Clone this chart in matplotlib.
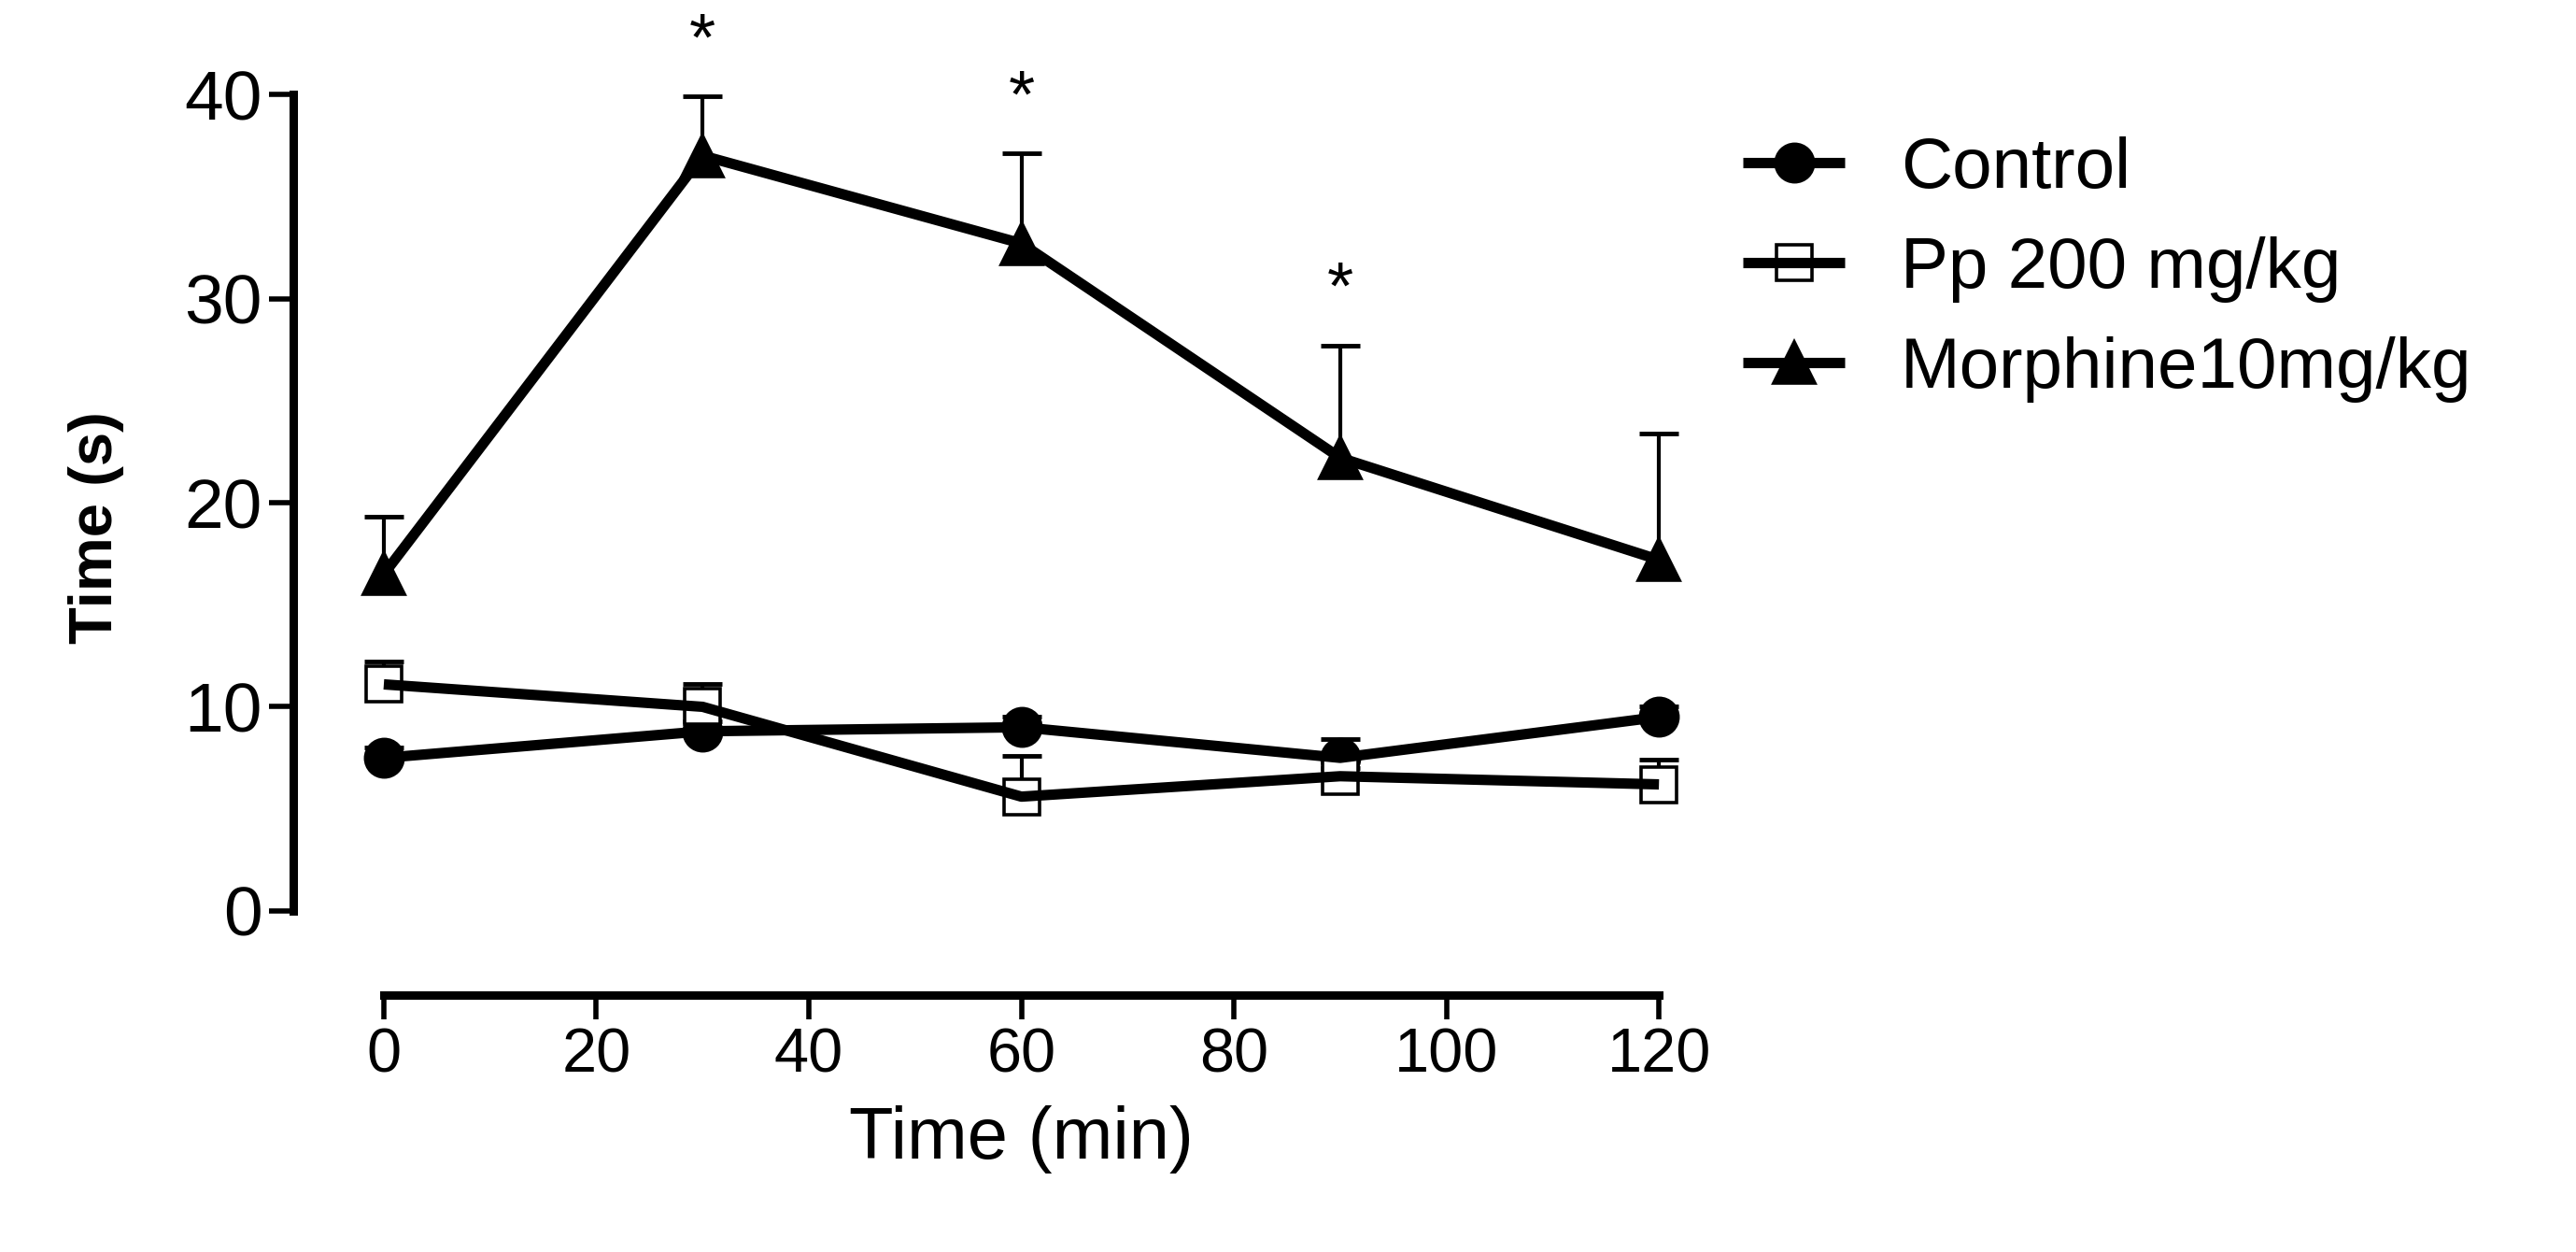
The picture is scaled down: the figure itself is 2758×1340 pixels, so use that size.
import matplotlib
matplotlib.use("Agg")
import matplotlib.pyplot as plt
from matplotlib.legend_handler import HandlerTuple

plt.rcParams["font.family"] = ["Liberation Sans", "DejaVu Sans"]

# time points (min)
times = [0, 30, 60, 90, 120]

# group means and upper SEM
control = [7.5, 8.8, 9.0, 7.5, 9.5]
control_err = [0.5, 0.5, 0.5, 0.9, 0.5]
pp200 = [11.1, 10.0, 5.6, 6.6, 6.2]
pp200_err = [1.1, 1.1, 2.0, 0.4, 1.2]
morphine = [16.5, 37.0, 32.7, 22.2, 17.2]
morphine_err = [2.8, 2.9, 4.4, 5.5, 6.2]

groups = ["Control", "Pp 200 mg/kg", "Morphine10mg/kg"]
markers = ["o", "s", "^"]
marker_sizes = [29, 28, 31]
face_colors = ["black", "white", "black"]

# significance marks over morphine
star_times = [30, 60, 90]

fig = plt.figure(figsize=(27.58, 13.40), dpi=100)
ax = fig.add_axes([0.149, 0.2724, 0.644 - 0.149, 0.9246 - 0.2724])

series = [(control, control_err), (pp200, pp200_err), (morphine, morphine_err)]
handles = []
for (vals, errs), name, mk, ms, fc in zip(series, groups, markers, marker_sizes, face_colors):
    # upper error only
    _, caps, _ = ax.errorbar(times, vals, yerr=[[0] * len(errs), errs], fmt="none",
                             ecolor="black", elinewidth=3, capsize=15, capthick=3.5,
                             zorder=2, clip_on=False)
    caps[0].set_visible(False)
    mh, = ax.plot(times, vals, linestyle="none", marker=mk, markersize=ms,
                  markerfacecolor=fc, markeredgecolor="black",
                  markeredgewidth=2.6, zorder=3, clip_on=False)
    lh, = ax.plot(times, vals, color="black", linewidth=8, zorder=4,
                  clip_on=False, solid_capstyle="butt")
    handles.append((mh, lh))

for t in star_times:
    i = times.index(t)
    ax.annotate("*", xy=(t, morphine[i] + morphine_err[i]), xytext=(0, 28),
                textcoords="offset points", ha="center", va="baseline",
                fontsize=52, annotation_clip=False)

ax.set_xlim(0, 120)
ax.set_ylim(0, 40)
ax.set_xticks(range(0, 121, 20))
ax.set_yticks(range(0, 41, 10))

for s in ["top", "right"]:
    ax.spines[s].set_visible(False)
ax.spines["left"].set_position(("outward", 70))
ax.spines["bottom"].set_position(("outward", 65))
ax.spines["left"].set_bounds(0, 40)
ax.spines["bottom"].set_bounds(0, 120)
ax.spines["left"].set_linewidth(6.5)
ax.spines["bottom"].set_linewidth(6.5)

ax.tick_params(axis="both", direction="out", length=19, width=4, color="black")
ax.tick_params(axis="y", pad=5, labelsize=54)
ax.tick_params(axis="x", pad=6, labelsize=48)

ax.set_xlabel("Time (min)", fontsize=56, labelpad=15)
ax.set_ylabel("Time (s)", fontsize=47, fontweight="bold", labelpad=46)
ax.yaxis.label.set_y(0.47)

ax.legend(handles, groups, handler_map={tuple: HandlerTuple(ndivide=1)},
          loc="upper left", bbox_to_anchor=(0.6766, 0.891),
          bbox_transform=fig.transFigure, frameon=False, fontsize=55,
          borderpad=0, borderaxespad=0, handlelength=1.43,
          handletextpad=0.78, labelspacing=0.47)

fig.savefig("out.png", dpi=100)
